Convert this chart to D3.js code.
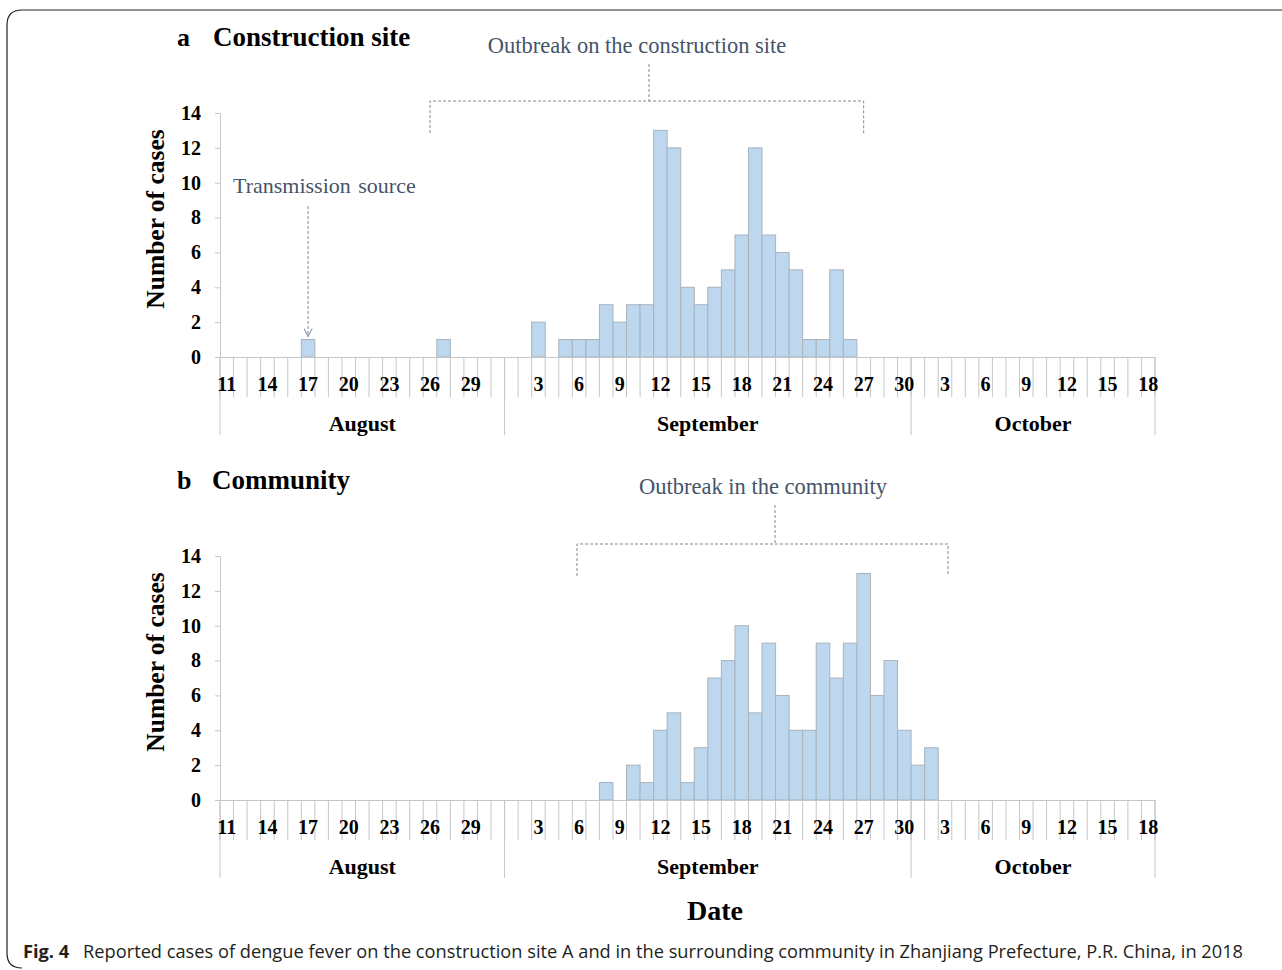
<!DOCTYPE html>
<html>
<head>
<meta charset="utf-8">
<script src="https://cdn.jsdelivr.net/npm/d3@7"></script>
<style>
  body { margin: 0; background: #fff; }
  svg { display: block; }
  .serif { font-family: "Liberation Serif", "Times New Roman", serif; }
</style>
</head>
<body>
<div id="chart"></div>
<script>

// ---- data ----
var firstDay = '2018-08-11',
    lastDay = '2018-10-18';

var monthNames = ['August', 'September', 'October'];
var monthStarts = ['2018-08-11', '2018-09-01', '2018-10-01'];

var tickDays = ['2018-08-11','2018-08-14','2018-08-17','2018-08-20','2018-08-23','2018-08-26','2018-08-29',
                '2018-09-03','2018-09-06','2018-09-09','2018-09-12','2018-09-15','2018-09-18','2018-09-21',
                '2018-09-24','2018-09-27','2018-09-30',
                '2018-10-03','2018-10-06','2018-10-09','2018-10-12','2018-10-15','2018-10-18'];

var yTicks = [0, 2, 4, 6, 8, 10, 12, 14];

// panel a: construction site
var siteDays = ['2018-08-17','2018-08-27','2018-09-03','2018-09-05','2018-09-06','2018-09-07','2018-09-08',
                '2018-09-09','2018-09-10','2018-09-11','2018-09-12','2018-09-13','2018-09-14','2018-09-15',
                '2018-09-16','2018-09-17','2018-09-18','2018-09-19','2018-09-20','2018-09-21','2018-09-22',
                '2018-09-23','2018-09-24','2018-09-25','2018-09-26'];
var siteCases = [1, 1, 2, 1, 1, 1, 3,
                 2, 3, 3, 13, 12, 4, 3,
                 4, 5, 7, 12, 7, 6, 5,
                 1, 1, 5, 1];

// panel b: community
var communityDays = ['2018-09-08','2018-09-10','2018-09-11','2018-09-12','2018-09-13','2018-09-14','2018-09-15',
                     '2018-09-16','2018-09-17','2018-09-18','2018-09-19','2018-09-20','2018-09-21','2018-09-22',
                     '2018-09-23','2018-09-24','2018-09-25','2018-09-26','2018-09-27','2018-09-28','2018-09-29',
                     '2018-09-30','2018-10-01','2018-10-02'];
var communityCases = [1, 2, 1, 4, 5, 1, 3,
                      7, 8, 10, 5, 9, 6, 4,
                      4, 9, 7, 9, 13, 6, 8,
                      4, 2, 3];

// ---- setup ----
var W = 1282, H = 970;
var parse = d3.timeParse('%Y-%m-%d'),
    fmt = d3.timeFormat('%Y-%m-%d');

var days = d3.timeDay.range(parse(firstDay), d3.timeDay.offset(parse(lastDay), 1)).map(fmt);

var svg = d3.select('#chart').append('svg')
    .attr('width', W)
    .attr('height', H);

// frame
svg.append('path')
    .attr('d', 'M1282,10 H22 Q7,10 7,25 V953 Q7,968 22,968')
    .attr('fill', 'none')
    .attr('stroke', '#222')
    .attr('stroke-width', 1.2);

var x = d3.scaleBand()
    .domain(days)
    .range([220, 1155])
    .paddingInner(0)
    .paddingOuter(0);

function mid(d) { return x(d) + x.bandwidth() / 2; }

var axisColor = '#c6c6c6',
    barFill = '#bdd7ee',
    barStroke = '#a9b3bd',
    noteColor = '#44546a',
    dashColor = '#7c8797';

function drawPanel(opts) {
    var top = opts.top,           // y of value 14
        base = opts.base;         // y of value 0

    var y = d3.scaleLinear()
        .domain([0, 14])
        .range([base, top]);

    var g = svg.append('g').attr('class', 'panel serif');

    // panel title
    g.append('text')
        .attr('x', 177)
        .attr('y', opts.titleY)
        .style('font-weight', 'bold')
        .style('font-size', '26px')
        .text(opts.letter);
    g.append('text')
        .attr('x', opts.titleX)
        .attr('y', opts.titleY)
        .style('font-weight', 'bold')
        .style('font-size', '27px')
        .text(opts.title);

    // y axis
    var yAxis = g.append('g')
        .attr('transform', 'translate(220,0)')
        .call(d3.axisLeft(y)
            .tickValues(yTicks)
            .tickSize(5)
            .tickSizeOuter(0)
            .tickPadding(14));
    yAxis.selectAll('path, line').attr('stroke', axisColor);
    yAxis.selectAll('text')
        .attr('fill', '#000')
        .style('font-family', '"Liberation Serif", serif')
        .style('font-weight', 'bold')
        .style('font-size', '20px');

    g.append('text')
        .attr('transform', 'translate(164,' + ((top + base) / 2 - 16) + ') rotate(-90)')
        .attr('text-anchor', 'middle')
        .style('font-weight', 'bold')
        .style('font-size', '25.5px')
        .text('Number of cases');

    // day boundary ticks
    var bounds = days.map(function(d) { return x(d); }).concat([x.range()[1]]);
    g.selectAll('.day-tick')
        .data(bounds)
        .enter().append('line')
        .attr('class', 'day-tick')
        .attr('x1', d => d).attr('x2', d => d)
        .attr('y1', base).attr('y2', base + 40)
        .attr('stroke', axisColor)
        .attr('stroke-width', 1);

    // month separators
    var monthBounds = monthStarts.map(d => x(d)).concat([x.range()[1]]);
    g.selectAll('.month-sep')
        .data(monthBounds)
        .enter().append('line')
        .attr('class', 'month-sep')
        .attr('x1', d => d).attr('x2', d => d)
        .attr('y1', base).attr('y2', base + 78)
        .attr('stroke', axisColor)
        .attr('stroke-width', 1);

    g.selectAll('.month-label')
        .data(monthNames)
        .enter().append('text')
        .attr('class', 'month-label')
        .attr('x', (d, i) => (monthBounds[i] + monthBounds[i + 1]) / 2)
        .attr('y', base + 74)
        .attr('text-anchor', 'middle')
        .style('font-weight', 'bold')
        .style('font-size', '22px')
        .text(d => d);

    // bars
    g.selectAll('.bar')
        .data(opts.days.map((d, i) => ({ day: d, n: opts.cases[i] })))
        .enter().append('rect')
        .attr('class', 'bar')
        .attr('x', d => x(d.day))
        .attr('width', x.bandwidth())
        .attr('y', d => y(d.n))
        .attr('height', d => base - y(d.n))
        .attr('fill', barFill)
        .attr('stroke', barStroke)
        .attr('stroke-width', 1);

    // x axis (labels at day centres)
    var xAxis = g.append('g')
        .attr('transform', 'translate(0,' + base + ')')
        .call(d3.axisBottom(x)
            .tickValues(tickDays)
            .tickSize(0)
            .tickPadding(20)
            .tickFormat(d => +d.slice(8)));
    xAxis.select('.domain').attr('stroke', axisColor);
    xAxis.selectAll('text')
        .attr('fill', '#000')
        .style('font-family', '"Liberation Serif", serif')
        .style('font-weight', 'bold')
        .style('font-size', '20px');

    return { g: g, y: y };
}

function bracket(g, note, left, right, lineY, noteX, noteY, stemX) {
    g.append('text')
        .attr('x', noteX)
        .attr('y', noteY)
        .attr('text-anchor', 'middle')
        .attr('fill', noteColor)
        .style('font-size', '22.5px')
        .text(note);
    g.append('path')
        .attr('d', 'M' + left + ',' + (lineY + 32) + ' V' + lineY + ' H' + right + ' V' + (lineY + 32))
        .attr('fill', 'none')
        .attr('stroke', dashColor)
        .attr('stroke-width', 1)
        .attr('stroke-dasharray', '3,2');
    g.append('line')
        .attr('x1', stemX).attr('x2', stemX)
        .attr('y1', noteY + 11).attr('y2', lineY)
        .attr('stroke', dashColor)
        .attr('stroke-width', 1)
        .attr('stroke-dasharray', '3,2');
}

// ---- panel a ----
var pa = drawPanel({
    top: 113, base: 357, titleY: 46, titleX: 213,
    letter: 'a', title: 'Construction site',
    days: siteDays, cases: siteCases
});

bracket(pa.g, 'Outbreak on the construction site',
    mid('2018-08-26'), mid('2018-09-27'), 101, 637, 53, 649);

// transmission source arrow
var srcX = mid('2018-08-17');
pa.g.append('text')
    .attr('x', 233)
    .attr('y', 193)
    .attr('fill', noteColor)
    .style('font-size', '22px')
    .style('word-spacing', '2px')
    .text('Transmission source');
pa.g.append('line')
    .attr('x1', srcX).attr('x2', srcX)
    .attr('y1', 206).attr('y2', pa.y(1) - 3)
    .attr('stroke', dashColor)
    .attr('stroke-width', 1)
    .attr('stroke-dasharray', '3,2');
pa.g.append('path')
    .attr('d', 'M' + (srcX - 4) + ',' + (pa.y(1) - 11) + ' L' + srcX + ',' + (pa.y(1) - 3) + ' L' + (srcX + 4) + ',' + (pa.y(1) - 11))
    .attr('fill', 'none')
    .attr('stroke', dashColor)
    .attr('stroke-width', 1);

// ---- panel b ----
var pb = drawPanel({
    top: 556, base: 800, titleY: 489, titleX: 212,
    letter: 'b', title: 'Community',
    days: communityDays, cases: communityCases
});

bracket(pb.g, 'Outbreak in the community',
    577, 948, 544, 763, 494, 775);

// ---- shared labels ----
svg.append('text')
    .attr('class', 'serif')
    .attr('x', 715)
    .attr('y', 920)
    .attr('text-anchor', 'middle')
    .style('font-weight', 'bold')
    .style('font-size', '28px')
    .text('Date');

var cap = svg.append('text')
    .attr('x', 23)
    .attr('y', 958)
    .attr('textLength', 1220)
    .attr('lengthAdjust', 'spacingAndGlyphs')
    .style('font-family', '"Open Sans", "Noto Sans", sans-serif')
    .style('font-size', '18px')
    .attr('fill', '#231f20');
cap.append('tspan')
    .style('font-weight', 'bold')
    .text('Fig. 4');
cap.append('tspan')
    .text('\u2002 Reported cases of dengue fever on the construction site A and in the surrounding community in Zhanjiang Prefecture, P.R. China, in 2018');
</script>
</body>
</html>
